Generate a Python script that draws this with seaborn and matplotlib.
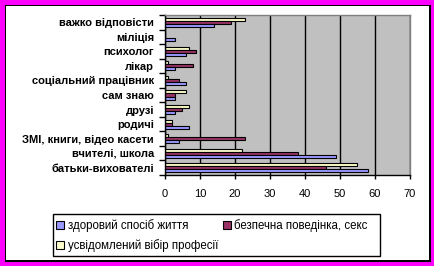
import matplotlib
matplotlib.use('Agg')
import matplotlib.pyplot as plt
import seaborn as sns
import pandas as pd
from matplotlib.patches import Rectangle, Patch

categories = ["важко відповісти", "міліція", "психолог", "лікар",
              "соціальний працівник", "сам знаю", "друзі", "родичі",
              "ЗМІ, книги, відео касети", "вчителі, школа", "батьки-вихователі"]
series = ["здоровий спосіб життя", "безпечна поведінка, секс",
          "усвідомлений вібір професії"]
healthy = [14, 3, 6, 3, 6, 3, 3, 7, 4, 49, 58]
safe = [19, 0, 9, 8, 4, 3, 5, 2, 23, 38, 46]
career = [23, 0, 7, 1, 1, 6, 7, 2, 1, 22, 55]
colors = ["#9999FF", "#993366", "#FFFFCC"]
xticks = [0, 10, 20, 30, 40, 50, 60, 70]

rows = []
for s, vals in zip(series, [healthy, safe, career]):
    for c, v in zip(categories, vals):
        rows.append({"cat": c, "series": s, "value": v})
df = pd.DataFrame(rows)

plt.rcParams['font.family'] = ['Liberation Sans', 'DejaVu Sans']
W, H = 435, 266
fig = plt.figure(figsize=(W / 100, H / 100), dpi=100)
fig.patch.set_facecolor('#FF00FF')
fig.patches.append(Rectangle((5 / W, (H - 262) / H), 426 / W, 257 / H,
                             transform=fig.transFigure, facecolor='black',
                             edgecolor='none', zorder=-3))
fig.patches.append(Rectangle((6 / W, (H - 260) / H), 423 / W, 254 / H,
                             transform=fig.transFigure, facecolor='white',
                             edgecolor='none', zorder=-2))
# legend frame
fig.patches.append(Rectangle((53 / W, (H - 256) / H), 327 / W, 42 / H,
                             transform=fig.transFigure, facecolor='white',
                             edgecolor='black', linewidth=1, zorder=-1))

ax = fig.add_axes([165 / W, (H - 175) / H, 245 / W, 160 / H])
ax.set_facecolor('#C0C0C0')
hue_order = series[::-1]
pal = dict(zip(series, colors))
sns.barplot(data=df, y="cat", x="value", hue="series", order=categories,
            hue_order=hue_order, palette=pal, orient='h', errorbar=None,
            width=0.62, edgecolor='black', linewidth=0.8, legend=False,
            saturation=1, ax=ax)
ax.set_xlim(0, 70)
ax.set_ylim(len(categories) - 0.5, -0.5)
ax.set_xticks(xticks)
ax.set_xticklabels([str(t) for t in xticks], fontsize=8)
ax.xaxis.grid(True, color='black', linewidth=1)
ax.set_axisbelow(True)
ax.set_xlabel('')
ax.set_ylabel('')
ax.set_yticks(range(len(categories)))
ax.set_yticklabels(categories, fontsize=8, fontweight='bold')
ax.set_yticks([i - 0.5 for i in range(len(categories) + 1)], minor=True)
ax.tick_params(axis='y', which='major', length=0, pad=8)
ax.tick_params(axis='y', which='minor', length=4, width=1, color='black')
ax.tick_params(axis='x', length=3, width=1, pad=7)
for sp in ['left', 'bottom']:
    ax.spines[sp].set_color('black')
    ax.spines[sp].set_linewidth(1)
for sp in ['top', 'right']:
    ax.spines[sp].set_color('#808080')
    ax.spines[sp].set_linewidth(1)

handles = [Patch(facecolor=c, edgecolor='black', linewidth=0.8) for c in colors]
order = [0, 2, 1]
leg = fig.legend([handles[i] for i in order], [series[i] for i in order],
                 loc='upper left', bbox_to_anchor=(54 / W, (H - 217) / H),
                 ncol=2, fontsize=8.3, frameon=False,
                 handlelength=0.7, handleheight=0.7, handletextpad=0.3,
                 borderaxespad=0, borderpad=0.2, labelspacing=0.6, columnspacing=0.4)

fig.savefig('out.png', dpi=100, facecolor=fig.get_facecolor())
